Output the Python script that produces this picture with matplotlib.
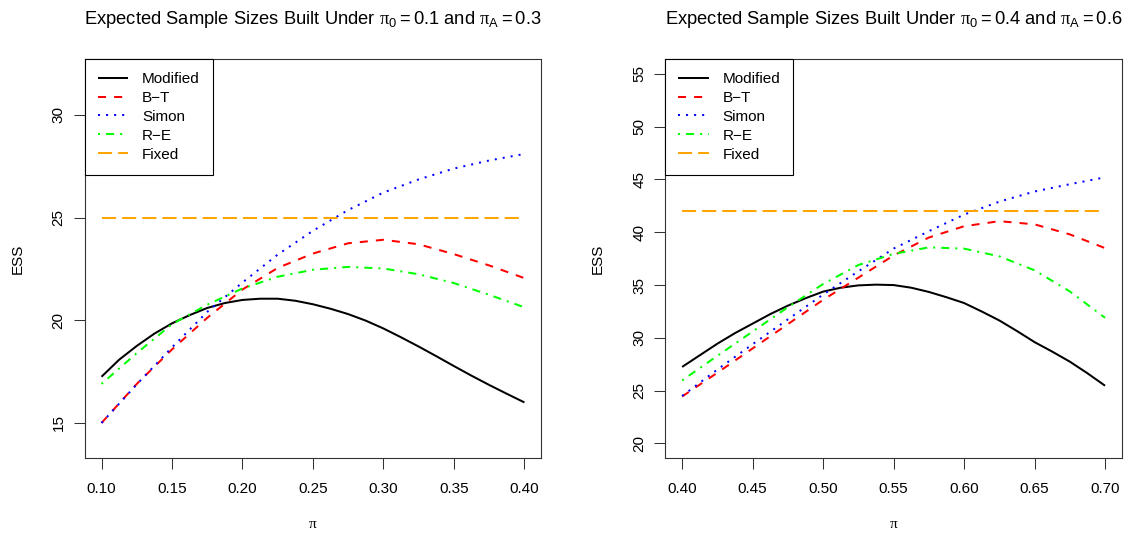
import numpy as np
import matplotlib
matplotlib.use("Agg")
import matplotlib.pyplot as plt

plt.rcParams['font.family'] = ['Liberation Sans', 'DejaVu Sans']
plt.rcParams['mathtext.fontset'] = 'custom'
plt.rcParams['mathtext.rm'] = 'Liberation Sans'
plt.rcParams['mathtext.sf'] = 'Liberation Serif'
plt.rcParams['mathtext.it'] = 'Liberation Sans:italic'
plt.rcParams['mathtext.bf'] = 'Liberation Sans:bold'

# ---- data ----
# left panel (pi0 = 0.1, piA = 0.3)
pi_l = [0.100, 0.125, 0.150, 0.175, 0.200, 0.225, 0.250, 0.275, 0.300, 0.325, 0.350, 0.375, 0.400]
# the Modified curve bends more, so it was read at a finer step
pi_mod_l = [0.1000, 0.1125, 0.1250, 0.1375, 0.1500, 0.1625, 0.1750, 0.1875, 0.2000,
            0.2125, 0.2250, 0.2375, 0.2500, 0.2625, 0.2750, 0.2875, 0.3000, 0.3125,
            0.3250, 0.3375, 0.3500, 0.3625, 0.3750, 0.3875, 0.4000]
mod_l = [17.25, 18.08, 18.75, 19.35, 19.85, 20.25, 20.60, 20.84, 20.99,
         21.05, 21.05, 20.95, 20.78, 20.56, 20.30, 19.98, 19.60, 19.17,
         18.72, 18.25, 17.77, 17.30, 16.85, 16.42, 16.00]
bt_l = [15.00, 16.90, 18.58, 20.12, 21.50, 22.55, 23.25, 23.75, 23.92, 23.70, 23.22, 22.67, 22.05]
simon_l = [15.00, 16.88, 18.68, 20.41, 21.84, 23.20, 24.36, 25.37, 26.22, 26.86, 27.39, 27.78, 28.10]
re_l = [16.90, 18.40, 19.81, 20.76, 21.55, 22.12, 22.46, 22.60, 22.52, 22.24, 21.81, 21.24, 20.63]
fixed_l = [25, 25]
pi_fixed_l = [0.10, 0.40]

# right panel (pi0 = 0.4, piA = 0.6)
pi_r = [0.400, 0.425, 0.450, 0.475, 0.500, 0.525, 0.550, 0.575, 0.600, 0.625, 0.650, 0.675, 0.700]
pi_mod_r = [0.4000, 0.4125, 0.4250, 0.4375, 0.4500, 0.4625, 0.4750, 0.4875, 0.5000,
            0.5125, 0.5250, 0.5375, 0.5500, 0.5625, 0.5750, 0.5875, 0.6000, 0.6125,
            0.6250, 0.6375, 0.6500, 0.6625, 0.6750, 0.6875, 0.7000]
mod_r = [27.25, 28.35, 29.45, 30.45, 31.35, 32.25, 33.05, 33.75, 34.38,
         34.75, 34.97, 35.04, 35.00, 34.75, 34.35, 33.85, 33.30, 32.50,
         31.65, 30.65, 29.60, 28.70, 27.75, 26.65, 25.47]
bt_r = [24.45, 26.70, 29.00, 31.30, 33.60, 35.70, 37.80, 39.50, 40.57, 41.05, 40.75, 39.80, 38.50]
simon_r = [24.50, 27.00, 29.40, 31.75, 34.10, 36.30, 38.45, 40.10, 41.67, 42.90, 43.86, 44.55, 45.20]
re_r = [25.97, 28.30, 30.60, 32.90, 35.10, 36.90, 37.95, 38.57, 38.45, 37.72, 36.40, 34.40, 31.90]
fixed_r = [42, 42]
pi_fixed_r = [0.40, 0.70]

labels = ["Modified", "B\u2212T", "Simon", "R\u2212E", "Fixed"]
colors = ["black", "#FF0000", "#0000FF", "#00FF00", "#FFA500"]
dashes = [None, (4, 4), (1, 3), (1, 3, 4, 3), (7, 3)]

titles = [r'Expected Sample Sizes Built Under $\mathsf{\pi}_0 = 0.1$ and $\mathsf{\pi}_\mathrm{A} = 0.3$',
          r'Expected Sample Sizes Built Under $\mathsf{\pi}_0 = 0.4$ and $\mathsf{\pi}_\mathrm{A} = 0.6$']

LW = 1.45

fig = plt.figure(figsize=(11.25, 5.33), dpi=100)
ax1 = fig.add_axes([0.0752, 0.1402, 0.406, 0.749])
ax2 = fig.add_axes([0.5913, 0.1402, 0.406, 0.749])

panels = [
    (ax1, [pi_mod_l, pi_l, pi_l, pi_l, pi_fixed_l], [mod_l, bt_l, simon_l, re_l, fixed_l],
     (0.10, 0.40), (14, 32),
     [0.10, 0.15, 0.20, 0.25, 0.30, 0.35, 0.40], [15, 20, 25, 30], titles[0]),
    (ax2, [pi_mod_r, pi_r, pi_r, pi_r, pi_fixed_r], [mod_r, bt_r, simon_r, re_r, fixed_r],
     (0.40, 0.70), (20, 55),
     [0.40, 0.45, 0.50, 0.55, 0.60, 0.65, 0.70], [20, 25, 30, 35, 40, 45, 50, 55], titles[1]),
]

for ax, xs, series, xr, yr, xt, yt, title in panels:
    for x, ys, c, d, lab in zip(xs, series, colors, dashes, labels):
        line, = ax.plot(x, ys, color=c, lw=LW, label=lab, solid_capstyle='butt',
                        dash_capstyle='butt')
        if d is not None:
            line.set_dashes(d)
    dx = (xr[1] - xr[0]) * 0.04
    dy = (yr[1] - yr[0]) * 0.04
    ax.set_xlim(xr[0] - dx, xr[1] + dx)
    ax.set_ylim(yr[0] - dy, yr[1] + dy)
    ax.set_xticks(xt)
    ax.set_xticklabels(["%.2f" % v for v in xt])
    ax.set_yticks(yt)
    ax.set_yticklabels([str(v) for v in yt])
    ax.tick_params(direction='out', length=7.6, width=0.75, labelsize=11, color='#333333')
    ax.tick_params(axis='x', pad=9.5)
    ax.tick_params(axis='y', pad=6, labelrotation=90)
    for lbl in ax.get_yticklabels():
        lbl.set_va('center')
    for s in ax.spines.values():
        s.set_linewidth(0.8)
        s.set_color('#333333')
    ax.text(0.5, 1 + 40 / 399.3, title, transform=ax.transAxes, ha='center', va='center',
            fontsize=13.2)
    ax.text(0.5, -66 / 399.3, 'π', transform=ax.transAxes, ha='center', va='center',
            fontsize=11, family='Liberation Serif')
    ax.text(-67.3 / 456.8, 0.5, 'ESS', transform=ax.transAxes, ha='center', va='center',
            fontsize=11, rotation=90)
    leg = ax.legend(loc='upper left', bbox_to_anchor=(0, 1), borderaxespad=0, fontsize=11,
                    frameon=True, fancybox=False, edgecolor='black', framealpha=1,
                    handlelength=2.0, handletextpad=0.9, borderpad=0.85, labelspacing=0.32)
    leg.get_frame().set_linewidth(0.8)

fig.savefig("out.png", dpi=100)
